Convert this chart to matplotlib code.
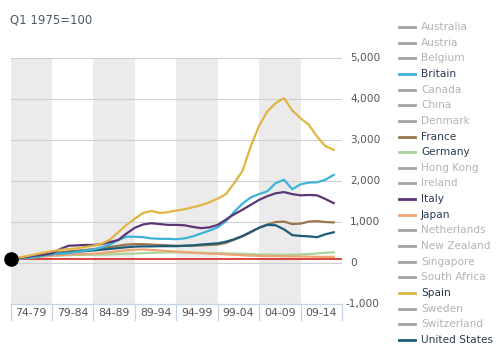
import matplotlib
matplotlib.use("Agg")
import matplotlib.pyplot as plt
from matplotlib.lines import Line2D

# ---------------- data ----------------
years = list(range(1975, 2015))

spain = [100, 130, 170, 210, 250, 290, 320, 340, 360, 390, 420, 470, 570, 750, 930, 1080, 1220, 1270, 1220, 1240,
         1280, 1310, 1360, 1410, 1480, 1570, 1680, 1950, 2250, 2850, 3350, 3700, 3900, 4020, 3720, 3530, 3370, 3080, 2850, 2760]
britain = [100, 110, 120, 140, 180, 220, 230, 240, 270, 300, 330, 380, 450, 560, 640, 640, 630, 600, 590, 590,
           580, 600, 650, 720, 790, 870, 1020, 1250, 1450, 1600, 1680, 1750, 1950, 2030, 1800, 1920, 1960, 1970, 2030, 2150]
italy = [100, 120, 150, 180, 200, 240, 340, 420, 430, 440, 440, 460, 510, 560, 720, 860, 940, 970, 950, 930,
         930, 920, 880, 850, 870, 930, 1060, 1190, 1300, 1420, 1540, 1630, 1700, 1730, 1680, 1650, 1660, 1650, 1560, 1460]
france = [100, 120, 150, 180, 210, 240, 260, 280, 300, 320, 340, 360, 390, 420, 450, 460, 460, 450, 440, 430,
          420, 420, 420, 430, 440, 450, 490, 570, 650, 750, 860, 940, 1000, 1010, 950, 960, 1010, 1020, 1000, 990]
united_states = [100, 115, 135, 160, 190, 215, 235, 255, 275, 290, 305, 325, 345, 365, 385, 400, 405, 405, 410, 410,
                 410, 420, 430, 450, 465, 480, 520, 580, 660, 760, 860, 930, 920, 820, 680, 660, 650, 630, 700, 750]
germany = [100, 115, 130, 145, 160, 170, 180, 190, 195, 200, 200, 205, 210, 220, 225, 230, 240, 250, 255, 260,
           260, 255, 250, 245, 240, 240, 235, 230, 225, 215, 210, 205, 200, 200, 205, 210, 220, 235, 250, 260]
japan = [100, 115, 130, 150, 165, 180, 195, 205, 215, 220, 225, 240, 265, 290, 310, 325, 330, 320, 305, 290,
         280, 265, 250, 240, 230, 220, 210, 200, 190, 180, 175, 170, 170, 165, 160, 160, 155, 150, 150, 150]

baseline = 100

period_labels = ["74-79", "79-84", "84-89", "89-94", "94-99", "99-04", "04-09", "09-14"]
period_starts = [1975, 1980, 1985, 1990, 1995, 2000, 2005, 2010]
period_len = 5

y_ticks = [5000, 4000, 3000, 2000, 1000, 0, -1000]
y_tick_labels = ["5,000", "4,000", "3,000", "2,000", "1,000", "0", "-1,000"]

legend_names = ["Australia", "Austria", "Belgium", "Britain", "Canada", "China", "Denmark", "France",
                "Germany", "Hong Kong", "Ireland", "Italy", "Japan", "Netherlands", "New Zealand",
                "Singapore", "South Africa", "Spain", "Sweden", "Switzerland", "United States"]

colors = {
    "Britain": "#3db3d8",
    "France": "#9a7650",
    "Germany": "#a8d59c",
    "Italy": "#5b3676",
    "Japan": "#eda574",
    "Spain": "#e0b545",
    "United States": "#1d5b76",
}
series = {
    "Germany": germany,
    "Japan": japan,
    "France": france,
    "United States": united_states,
    "Britain": britain,
    "Italy": italy,
    "Spain": spain,
}

# ---------------- figure ----------------
W, H = 500, 363
fig = plt.figure(figsize=(W / 100, H / 100), dpi=100)
fig.patch.set_facecolor("white")

ax_left, ax_right = 10.5, 342
ax_top, ax_bot = 58, 304
ax = fig.add_axes([ax_left / W, 1 - ax_bot / H, (ax_right - ax_left) / W, (ax_bot - ax_top) / H])
ax.set_xlim(period_starts[0], period_starts[-1] + period_len)
ax.set_ylim(-1000, 5000)
ax.set_facecolor("white")
for s in ax.spines.values():
    s.set_visible(False)
ax.set_xticks([])
ax.set_yticks([])

# shaded bands
for i, st in enumerate(period_starts):
    if i % 2 == 0:
        ax.axvspan(st, st + period_len, color="#ebebeb", lw=0, zorder=0)

# gridlines
for t in y_ticks[:-1]:
    ax.axhline(t, color="#cfcfcf", lw=0.8, zorder=1)

# baseline red
ax.axhline(baseline, color="#d7261e", lw=1.2, zorder=2)

for name, vals in series.items():
    ax.plot(years, vals, color=colors[name], lw=1.6, zorder=3, solid_joinstyle="round")

ax.plot([years[0]], [baseline], "o", color="black", ms=9.5, zorder=6, clip_on=False)

# y tick labels on right
for t, lab in zip(y_ticks, y_tick_labels):
    xoff = 8 if not lab.startswith("-") else 3
    ax.annotate(lab, xy=(1.0, t), xycoords=ax.get_yaxis_transform(),
                xytext=(xoff * 0.72, 0), textcoords="offset points",
                ha="left", va="center", fontsize=7.6, color="#555555", annotation_clip=False)

# x period boxes
box_col = "#c3d3e3"
box_h_data = 16 / (ax_bot - ax_top) * 6000
ax.plot([period_starts[0], period_starts[-1] + period_len], [-1000, -1000], color=box_col, lw=0.9,
        clip_on=False, zorder=5)
for st in period_starts + [period_starts[-1] + period_len]:
    ax.plot([st, st], [-1000, -1000 - box_h_data], color=box_col, lw=0.9, clip_on=False, zorder=5)
for st, lab in zip(period_starts, period_labels):
    ax.text(st + period_len / 2, -1000 - 9.5 / (ax_bot - ax_top) * 6000, lab, ha="center", va="center",
            fontsize=7.8, color="#555555", clip_on=False)

# title
fig.text(10 / W, 1 - 20 / H, "Q1 1975=100", ha="left", va="center", fontsize=8.4, color="#4a5868")

# legend
y0, dy = 27, 15.65
for i, name in enumerate(legend_names):
    yy = 1 - (y0 + i * dy) / H
    if name in colors:
        lc, tc = colors[name], "#2a3a4e"
    else:
        lc, tc = "#a3a3a3", "#b3b3b3"
    fig.add_artist(Line2D([399 / W, 415 / W], [yy, yy], color=lc, lw=2.0, transform=fig.transFigure))
    fig.text(421 / W, yy, name, ha="left", va="center", fontsize=7.6, color=tc)

fig.savefig("out.png", dpi=100, facecolor="white")
